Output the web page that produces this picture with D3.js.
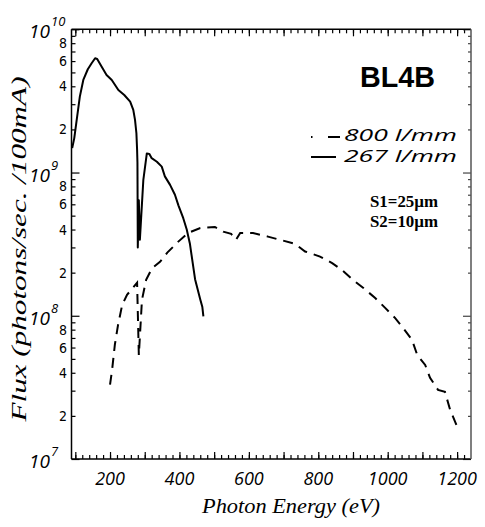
<!DOCTYPE html>
<html>
<head>
<meta charset="utf-8">
<script src="https://cdn.jsdelivr.net/npm/d3@7"></script>
<style>
  body { margin: 0; background: #fff; }
  svg { display: block; }
</style>
</head>
<body>
<svg id="chart"></svg>
<script>
const WIDTH = 485;
const HEIGHT = 527;

// 267 l/mm grating (solid)
const solidE = [91, 97, 104, 113, 123, 136, 147, 157, 163, 176, 190, 205, 224, 241, 258, 267, 272, 276,
  278, 279, 280, 283, 286, 296, 306, 313, 320, 335, 349, 358, 373, 387, 397, 411, 421, 430, 445, 460, 466, 469];
const solidF = [1.48e9, 1.74e9, 2.33e9, 3.39e9, 4.43e9, 5.26e9, 5.79e9, 6.28e9, 6.21e9, 5.48e9, 4.80e9, 4.43e9,
  3.77e9, 3.48e9, 3.13e9, 2.74e9, 2.33e9, 1.88e9, 1.44e9, 1.17e9, 3.0e8, 6.4e8, 3.4e8, 8.9e8, 1.36e9, 1.35e9,
  1.26e9, 1.19e9, 1.10e9, 9.4e8, 8.2e8, 7.0e8, 5.9e8, 4.8e8, 4.0e8, 3.2e8, 1.8e8, 1.3e8, 1.15e8, 9.9e7];

// 800 l/mm grating (dashed)
const dashE = [200, 206, 214, 223, 235, 249, 266, 278, 283, 292, 304, 321, 344, 365, 396, 425, 460, 502, 526,
  549, 563, 575, 612, 655, 690, 733, 762, 805, 840, 868, 900, 929, 964, 992, 1021, 1044, 1070, 1085, 1108, 1122,
  1145, 1165, 1180, 1186, 1200];
const dashF = [3.3e7, 4.2e7, 6.3e7, 8.6e7, 1.19e8, 1.4e8, 1.57e8, 1.7e8, 5.3e7, 1.29e8, 1.78e8, 2.15e8, 2.38e8,
  2.76e8, 3.28e8, 3.79e8, 4.1e8, 4.17e8, 3.87e8, 3.73e8, 3.39e8, 3.78e8, 3.78e8, 3.57e8, 3.39e8, 3.18e8, 2.81e8,
  2.59e8, 2.33e8, 2.09e8, 1.78e8, 1.57e8, 1.33e8, 1.14e8, 9.66e7, 8.24e7, 6.8e7, 5.33e7, 4.54e7, 3.69e7, 3.04e7,
  2.94e7, 2.2e7, 2.03e7, 1.68e7];

const xLabels = [200, 400, 600, 800, 1000, 1200];
const decades = [7, 8, 9, 10];
const minorLabels = [2, 4, 6, 8];
const legendNames = ["800 l/mm", "267 l/mm"];
const slitNotes = ["S1=25\u00b5m", "S2=10\u00b5m"];

const L = 71.5, R = 471, T = 29.3, B = 459;

const svg = d3.select("#chart").attr("width", WIDTH).attr("height", HEIGHT);

const x = d3.scaleLinear().domain([89, 1240]).range([L, R]);
const y = d3.scaleLog().domain([1e7, 1e10]).range([B, T]);

const minorX = d3.range(100, 1240, 20);
const majorX = d3.range(100, 1240, 100);
const minorY = [];
decades.slice(0, 3).forEach(d => {
  for (let k = 2; k <= 9; k++) minorY.push(k * Math.pow(10, d));
});
const majorY = decades.map(d => Math.pow(10, d));

function tickAxis(axisFn, scale, values, size, tx, ty, color) {
  const g = svg.append("g").attr("transform", `translate(${tx},${ty})`)
    .call(axisFn(scale).tickValues(values).tickSize(size).tickFormat(""));
  g.selectAll(".domain").remove();
  g.selectAll("line").attr("stroke", color || "#000").attr("stroke-width", 1.2);
  return g;
}

// ticks pointing inward on all four sides
tickAxis(d3.axisBottom, x, minorX, -4, 0, B);
tickAxis(d3.axisBottom, x, majorX, -7, 0, B);
tickAxis(d3.axisTop, x, minorX, -4, 0, T);
tickAxis(d3.axisTop, x, majorX, -7, 0, T);
tickAxis(d3.axisLeft, y, minorY, -4, L, 0);
tickAxis(d3.axisLeft, y, majorY, -8, L, 0);
tickAxis(d3.axisRight, y, minorY, -3, R, 0, "#444");
tickAxis(d3.axisRight, y, majorY, -8, R, 0, "#444");

// frame
svg.append("line").attr("x1", L).attr("x2", R).attr("y1", T).attr("y2", T).attr("stroke", "#000").attr("stroke-width", 1.5);
svg.append("line").attr("x1", L).attr("x2", R).attr("y1", B).attr("y2", B).attr("stroke", "#000").attr("stroke-width", 1.5);
svg.append("line").attr("x1", L).attr("x2", L).attr("y1", T).attr("y2", B).attr("stroke", "#000").attr("stroke-width", 1.5);
svg.append("line").attr("x1", R).attr("x2", R).attr("y1", T).attr("y2", B).attr("stroke", "#555").attr("stroke-width", 1.5);

// x tick labels
svg.append("g").selectAll("text").data(xLabels).join("text")
  .attr("x", d => x(d)).attr("y", 485)
  .attr("text-anchor", "middle")
  .attr("font-family", "Open Sans, sans-serif").attr("font-style", "italic")
  .attr("font-size", 18)
  .text(d => d);

// y decade labels
svg.append("g").selectAll("text").data(decades).join("text")
  .attr("x", 50).attr("y", d => y(Math.pow(10, d)) + 9)
  .attr("text-anchor", "end")
  .attr("font-family", "Open Sans, sans-serif").attr("font-style", "italic")
  .attr("font-size", 19)
  .text("10");
svg.append("g").selectAll("text").data(decades).join("text")
  .attr("x", 51).attr("y", d => y(Math.pow(10, d)) - 3)
  .attr("font-family", "Open Sans, sans-serif").attr("font-style", "italic")
  .attr("font-size", 13)
  .text(d => d);

// minor y labels
const minorLab = [];
decades.slice(0, 3).forEach(d => minorLabels.forEach(k => minorLab.push([k, k * Math.pow(10, d)])));
svg.append("g").selectAll("text").data(minorLab).join("text")
  .attr("x", 67).attr("y", d => y(d[1]) + 5)
  .attr("text-anchor", "end")
  .attr("font-family", "Liberation Sans Narrow, DejaVu Sans Condensed, sans-serif")
  .attr("font-size", 14)
  .text(d => d[0]);

// axis titles
svg.append("text")
  .attr("x", 291).attr("y", 513).attr("text-anchor", "middle")
  .attr("font-family", "Liberation Serif, serif").attr("font-style", "italic")
  .attr("font-size", 20).attr("textLength", 178).attr("lengthAdjust", "spacingAndGlyphs")
  .text("Photon Energy (eV)");
svg.append("text")
  .attr("transform", "translate(26,249) rotate(-90)").attr("text-anchor", "middle")
  .attr("font-family", "Liberation Serif, serif").attr("font-style", "italic")
  .attr("font-size", 20).attr("textLength", 345).attr("lengthAdjust", "spacingAndGlyphs")
  .text("Flux  (photons/sec. /100mA)");

// curves
const line = d3.line().x(d => x(d[0])).y(d => y(d[1])).curve(d3.curveLinear);
const plot = svg.append("g");
plot.append("path").datum(solidE.map((e, i) => [e, solidF[i]]))
  .attr("d", line).attr("fill", "none").attr("stroke", "#000")
  .attr("stroke-width", 2).attr("stroke-linejoin", "round");
plot.append("path").datum(dashE.map((e, i) => [e, dashF[i]]))
  .attr("d", line).attr("fill", "none").attr("stroke", "#000")
  .attr("stroke-width", 2).attr("stroke-dasharray", "10,7");

// title and legend
svg.append("text").attr("x", 360).attr("y", 87)
  .attr("font-family", "Liberation Sans, Arial, sans-serif").attr("font-weight", "bold")
  .attr("font-size", 30).attr("textLength", 75).attr("lengthAdjust", "spacingAndGlyphs")
  .text("BL4B");

const leg = svg.append("g");
leg.append("line").attr("x1", 311).attr("x2", 340).attr("y1", 137).attr("y2", 137)
  .attr("stroke", "#000").attr("stroke-width", 2).attr("stroke-dasharray", "1.5,15.5,12,50");
leg.append("line").attr("x1", 311).attr("x2", 336).attr("y1", 157).attr("y2", 157)
  .attr("stroke", "#000").attr("stroke-width", 2);
leg.selectAll("text.lg").data(legendNames).join("text").attr("class", "lg")
  .attr("x", 344).attr("y", (d, i) => 141 + i * 21)
  .attr("font-family", "Open Sans, sans-serif").attr("font-style", "italic")
  .attr("font-size", 17).attr("textLength", 113).attr("lengthAdjust", "spacingAndGlyphs")
  .text(d => d);

leg.selectAll("text.sl").data(slitNotes).join("text").attr("class", "sl")
  .attr("x", 370).attr("y", (d, i) => 207 + i * 20)
  .attr("font-family", "Liberation Serif, Times New Roman, serif").attr("font-weight", "bold")
  .attr("font-size", 17).attr("textLength", 68).attr("lengthAdjust", "spacingAndGlyphs")
  .text(d => d);
</script>
</body>
</html>
